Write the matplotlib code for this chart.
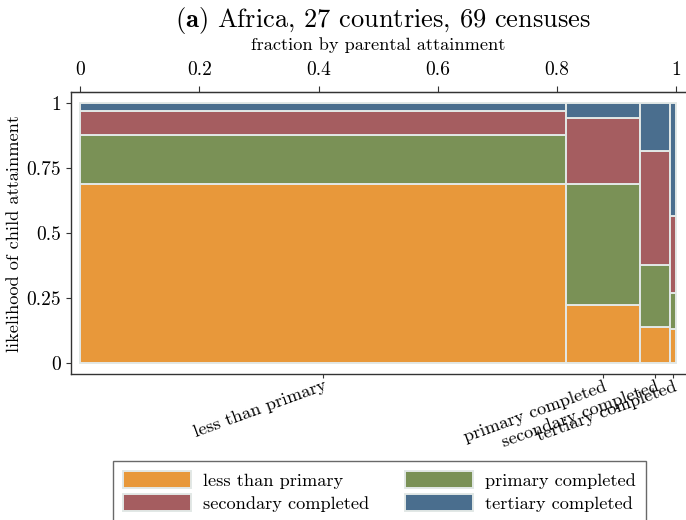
import matplotlib
matplotlib.use("Agg")
import matplotlib.pyplot as plt
import numpy as np

categories = ["less than primary", "primary completed", "secondary completed", "tertiary completed"]
parent_share = [0.816, 0.124, 0.050, 0.010]
child_less = [0.687, 0.222, 0.137, 0.130]
child_primary = [0.189, 0.464, 0.239, 0.138]
child_secondary = [0.093, 0.256, 0.438, 0.296]
child_tertiary = [0.031, 0.058, 0.186, 0.436]
x_ticks = [0, 0.2, 0.4, 0.6, 0.8, 1]
x_ticklabels = ["0", "0.2", "0.4", "0.6", "0.8", "1"]
y_ticks = [0, 0.25, 0.5, 0.75, 1]
y_ticklabels = ["0", "0.25", "0.5", "0.75", "1"]

colors = ["#E8983A", "#7A9156", "#A55D60", "#4A6E8E"]

plt.rcParams["font.family"] = ["cmr10", "DejaVu Serif"]
plt.rcParams["mathtext.fontset"] = "cm"
plt.rcParams["axes.unicode_minus"] = False

fig = plt.figure(figsize=(6.86, 5.20), dpi=100)
ax = fig.add_axes([71 / 686, 1 - 374 / 520, (685 - 71) / 686, (374 - 92) / 520])

widths = np.array(parent_share)
lefts = np.concatenate([[0], np.cumsum(widths)[:-1]])
centers = lefts + widths / 2
series = [child_less, child_primary, child_secondary, child_tertiary]
bottom = np.zeros(len(widths))
for vals, col, lab in zip(series, colors, categories):
    ax.bar(lefts, vals, width=widths, bottom=bottom, align="edge", color=col,
           edgecolor="#e2e8e6", linewidth=1.4, label=lab)
    bottom = bottom + np.array(vals)

ax.set_xlim(-0.0156, 1.015)
ax.set_ylim(-0.0435, 1.041)

ax.set_yticks(y_ticks)
ax.set_yticklabels(y_ticklabels, fontsize=14)
ax.set_ylabel("likelihood of child attainment", fontsize=13.2, labelpad=3)

ax.set_xticks(centers)
ax.set_xticklabels(categories, rotation=20, ha="right", rotation_mode="anchor", fontsize=13.2)
ax.tick_params(axis="x", length=3, pad=0)

top = ax.secondary_xaxis("top")
top.set_xticks(x_ticks)
top.set_xticklabels(x_ticklabels, fontsize=14)
top.set_xlabel("fraction by parental attainment", fontsize=13.2, labelpad=8)
top.tick_params(axis="x", length=4, pad=5)

fig.text(383 / 686, 1 - 20 / 520, r"$\mathbf{(a)}$ Africa, 27 countries, 69 censuses",
         fontsize=19, ha="center", va="center")

for s in ax.spines.values():
    s.set_color("#333333")
    s.set_linewidth(1.0)
ax.spines["right"].set_visible(False)
top.spines["top"].set_color("#333333")
ax.tick_params(colors="#333333", labelcolor="black")
top.tick_params(colors="#333333", labelcolor="black")

h, l = ax.get_legend_handles_labels()
order = [0, 2, 1, 3]
leg = fig.legend([h[i] for i in order], [l[i] for i in order], loc="upper center",
                 bbox_to_anchor=(0.553, 0.131), ncol=2, fontsize=13.2, frameon=True,
                 fancybox=False, handlelength=3.7, handleheight=1.0, columnspacing=1.95,
                 borderpad=0.55, labelspacing=0.3, handletextpad=0.65)
leg.get_frame().set_edgecolor("#444444")
leg.get_frame().set_linewidth(1.0)

fig.savefig("out.png", dpi=100)
